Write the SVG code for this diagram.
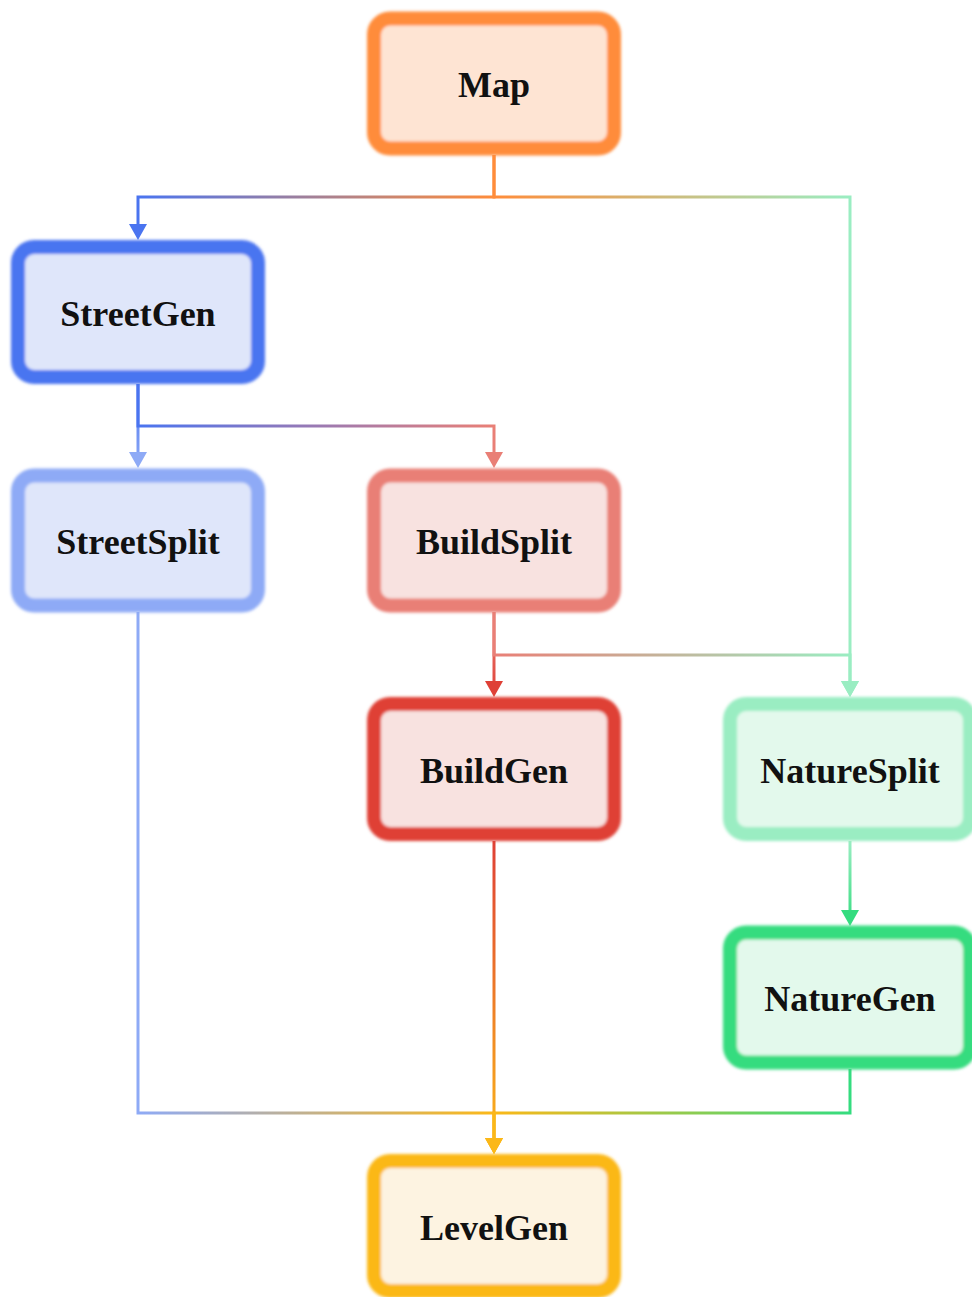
<svg xmlns="http://www.w3.org/2000/svg" width="972" height="1297" viewBox="0 0 972 1297">
  <style>
    .node rect { stroke-width: 14; filter: url(#soft); }
    .node text { font-family: "Liberation Serif", "Times New Roman", serif; font-weight: bold; font-size: 36px; fill: #111; text-anchor: middle; }
    .edge { fill: none; stroke-width: 3; stroke-linejoin: miter; }
  </style>
  <defs>
    <filter id="soft" x="-10%" y="-10%" width="120%" height="120%">
      <feGaussianBlur stdDeviation="1.4"/>
    </filter>

    <!-- arrowheads, one per target colour -->
    <marker id="ah-blue" viewBox="0 0 16 18" refX="7" refY="9" markerWidth="16" markerHeight="18" markerUnits="userSpaceOnUse" orient="auto"><path d="M0,0 L16,9 L0,18 Z" fill="#4a74f0"/></marker>
    <marker id="ah-lblue" viewBox="0 0 16 18" refX="7" refY="9" markerWidth="16" markerHeight="18" markerUnits="userSpaceOnUse" orient="auto"><path d="M0,0 L16,9 L0,18 Z" fill="#8eaaf6"/></marker>
    <marker id="ah-salmon" viewBox="0 0 16 18" refX="7" refY="9" markerWidth="16" markerHeight="18" markerUnits="userSpaceOnUse" orient="auto"><path d="M0,0 L16,9 L0,18 Z" fill="#e97f76"/></marker>
    <marker id="ah-red" viewBox="0 0 16 18" refX="7" refY="9" markerWidth="16" markerHeight="18" markerUnits="userSpaceOnUse" orient="auto"><path d="M0,0 L16,9 L0,18 Z" fill="#df4036"/></marker>
    <marker id="ah-lgreen" viewBox="0 0 16 18" refX="7" refY="9" markerWidth="16" markerHeight="18" markerUnits="userSpaceOnUse" orient="auto"><path d="M0,0 L16,9 L0,18 Z" fill="#9aedc2"/></marker>
    <marker id="ah-green" viewBox="0 0 16 18" refX="7" refY="9" markerWidth="16" markerHeight="18" markerUnits="userSpaceOnUse" orient="auto"><path d="M0,0 L16,9 L0,18 Z" fill="#34dc7f"/></marker>
    <marker id="ah-amber" viewBox="0 0 16 18" refX="7" refY="9" markerWidth="16" markerHeight="18" markerUnits="userSpaceOnUse" orient="auto"><path d="M0,0 L16,9 L0,18 Z" fill="#fbb818"/></marker>

    <!-- edge gradients: source colour to target colour -->
    <linearGradient id="g-map-street" gradientUnits="userSpaceOnUse" x1="494" y1="0" x2="138" y2="0"><stop offset="0" stop-color="#ff8c3a"/><stop offset="1" stop-color="#4a74f0"/></linearGradient>
    <linearGradient id="g-map-nature" gradientUnits="userSpaceOnUse" x1="494" y1="0" x2="850" y2="0"><stop offset="0" stop-color="#ff8c3a"/><stop offset="1" stop-color="#9aedc2"/></linearGradient>
    <linearGradient id="g-sg-ss" gradientUnits="userSpaceOnUse" x1="0" y1="385" x2="0" y2="468"><stop offset="0" stop-color="#4a74f0"/><stop offset="1" stop-color="#8eaaf6"/></linearGradient>
    <linearGradient id="g-sg-bs" gradientUnits="userSpaceOnUse" x1="138" y1="0" x2="494" y2="0"><stop offset="0" stop-color="#4a74f0"/><stop offset="1" stop-color="#e97f76"/></linearGradient>
    <linearGradient id="g-bs-bg" gradientUnits="userSpaceOnUse" x1="0" y1="613" x2="0" y2="697"><stop offset="0" stop-color="#e97f76"/><stop offset="1" stop-color="#df4036"/></linearGradient>
    <linearGradient id="g-bs-ns" gradientUnits="userSpaceOnUse" x1="494" y1="0" x2="850" y2="0"><stop offset="0" stop-color="#e97f76"/><stop offset="1" stop-color="#9aedc2"/></linearGradient>
    <linearGradient id="g-ss-lg" gradientUnits="userSpaceOnUse" x1="138" y1="0" x2="494" y2="0"><stop offset="0" stop-color="#8eaaf6"/><stop offset="1" stop-color="#fbb818"/></linearGradient>
    <linearGradient id="g-bg-lg" gradientUnits="userSpaceOnUse" x1="0" y1="841" x2="0" y2="1154"><stop offset="0" stop-color="#df4036"/><stop offset="1" stop-color="#fbb818"/></linearGradient>
    <linearGradient id="g-ns-ng" gradientUnits="userSpaceOnUse" x1="0" y1="841" x2="0" y2="926"><stop offset="0" stop-color="#9aedc2"/><stop offset="1" stop-color="#34dc7f"/></linearGradient>
    <linearGradient id="g-ng-lg" gradientUnits="userSpaceOnUse" x1="850" y1="0" x2="494" y2="0"><stop offset="0" stop-color="#34dc7f"/><stop offset="1" stop-color="#fbb818"/></linearGradient>
  </defs>

  <rect width="972" height="1297" fill="#ffffff"/>

  <g id="connectors">
    <path class="edge" d="M494,155 V197 H138 V231" stroke="url(#g-map-street)" marker-end="url(#ah-blue)"/>
    <path class="edge" d="M494,155 V197 H850 V688" stroke="url(#g-map-nature)" marker-end="url(#ah-lgreen)"/>
    <path class="edge" d="M138,384 V459" stroke="url(#g-sg-ss)" marker-end="url(#ah-lblue)"/>
    <path class="edge" d="M138,384 V426 H494 V459" stroke="url(#g-sg-bs)" marker-end="url(#ah-salmon)"/>
    <path class="edge" d="M494,612 V688" stroke="url(#g-bs-bg)" marker-end="url(#ah-red)"/>
    <path class="edge" d="M494,612 V655 H850 V688" stroke="url(#g-bs-ns)" marker-end="url(#ah-lgreen)"/>
    <path class="edge" d="M138,612 V1113 H494 V1145" stroke="url(#g-ss-lg)" marker-end="url(#ah-amber)"/>
    <path class="edge" d="M494,841 V1145" stroke="url(#g-bg-lg)" marker-end="url(#ah-amber)"/>
    <path class="edge" d="M850,841 V917" stroke="url(#g-ns-ng)" marker-end="url(#ah-green)"/>
    <path class="edge" d="M850,1069 V1113 H494 V1145" stroke="url(#g-ng-lg)" marker-end="url(#ah-amber)"/>
  </g>

  <g id="node-map" class="node">
    <rect x="374" y="18.5" width="240" height="130" rx="16" fill="#fee4d3" stroke="#ff8c3a"/>
    <text x="494" y="97">Map</text>
  </g>
  <g id="node-streetgen" class="node">
    <rect x="18" y="247" width="240" height="130" rx="16" fill="#dfe6fa" stroke="#4a74f0"/>
    <text x="138" y="326">StreetGen</text>
  </g>
  <g id="node-streetsplit" class="node">
    <rect x="18" y="475.5" width="240" height="130" rx="16" fill="#dfe6fa" stroke="#8eaaf6"/>
    <text x="138" y="554">StreetSplit</text>
  </g>
  <g id="node-buildsplit" class="node">
    <rect x="374" y="475.5" width="240" height="130" rx="16" fill="#f8e2e0" stroke="#e97f76"/>
    <text x="494" y="554">BuildSplit</text>
  </g>
  <g id="node-buildgen" class="node">
    <rect x="374" y="704" width="240" height="130" rx="16" fill="#f8e2e0" stroke="#df4036"/>
    <text x="494" y="783">BuildGen</text>
  </g>
  <g id="node-naturesplit" class="node">
    <rect x="730" y="704" width="240" height="130" rx="16" fill="#e3f9ec" stroke="#9aedc2"/>
    <text x="850" y="783">NatureSplit</text>
  </g>
  <g id="node-naturegen" class="node">
    <rect x="730" y="932.5" width="240" height="130" rx="16" fill="#e3f9ec" stroke="#34dc7f"/>
    <text x="850" y="1011">NatureGen</text>
  </g>
  <g id="node-levelgen" class="node">
    <rect x="374" y="1161" width="240" height="130" rx="16" fill="#fdf3e1" stroke="#fbb818"/>
    <text x="494" y="1240">LevelGen</text>
  </g>
</svg>
